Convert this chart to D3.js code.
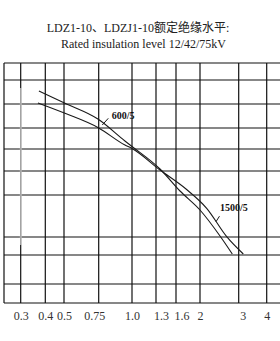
<!DOCTYPE html>
<html>
<head>
<meta charset="utf-8">
<script src="https://cdn.jsdelivr.net/npm/d3@7"></script>
<style>
  body { margin: 0; background: #fff; }
  svg { display: block; }
  .title { font-family: "Liberation Serif", "Noto Sans CJK SC", serif; font-size: 12px; fill: #222; }
  .tick text { font-family: "Liberation Serif", serif; font-size: 12px; fill: #333; }
  .curve-label { font-family: "Liberation Serif", serif; font-size: 10px; font-weight: bold; fill: #111; }
</style>
</head>
<body>
<div id="chart"></div>
<script>
// ---- data ----
var titleLines = ["LDZ1-10、LDZJ1-10额定绝缘水平:", "Rated insulation level 12/42/75kV"];

var xTicks = [0.3, 0.4, 0.5, 0.75, 1.0, 1.3, 1.6, 2, 3, 4];
var xTickLabels = ["0.3", "0.4", "0.5", "0.75", "1.0", "1.3", "1.6", "2", "3", "4"];

// unlabeled horizontal grid levels (relative units)
var yGrid = [0, 1.9, 4.8, 6.6, 10.8, 13.2, 15.4, 17.5, 19.9, 22.3, 24];

var curve600 = [
    {x: 0.374, y: 21.2}, {x: 0.507, y: 19.97}, {x: 0.747, y: 18.37},
    {x: 0.947, y: 16.2}, {x: 1.0, y: 15.65}, {x: 1.36, y: 13.4},
    {x: 1.667, y: 11.2}, {x: 2.0, y: 9.3}, {x: 2.517, y: 6.7}, {x: 2.835, y: 4.9}
];
var curve1500 = [
    {x: 0.370, y: 20.0}, {x: 0.507, y: 18.97}, {x: 0.747, y: 17.53},
    {x: 0.947, y: 15.8}, {x: 1.0, y: 15.45}, {x: 1.36, y: 13.3},
    {x: 1.767, y: 11.4}, {x: 2.173, y: 9.47}, {x: 2.69, y: 6.63}, {x: 3.164, y: 4.9}
];

var curveNames = ["600/5", "1500/5"];
// where each label's leader touches its curve
var labelAnchors = [{x: 0.777, y: 17.8}, {x: 2.413, y: 8.13}];

// ---- layout ----
var width = 280, height = 341;
var frame = {left: 4, top: 63, right: 280, bottom: 303};
// the printed axis is not evenly spaced: pixel spots of the ticks
var xTickPx = [20.7, 45.3, 64, 98.7, 132, 156, 176, 200, 238.7, 266.7];
// printed tick labels sit a little off their lines
var labelShift = {"0.75": -4.5, "1.3": 5, "1.6": 5.5, "3": 4};

var svg = d3.select("#chart").append("svg")
    .attr("width", width)
    .attr("height", height);

// title
svg.selectAll(".title")
    .data(titleLines)
    .enter().append("text")
    .attr("class", "title")
    .attr("x", function(d, i) { return i === 0 ? 138 : 143.5; })
    .attr("y", function(d, i) { return i === 0 ? 32 : 47.5; })
    .attr("text-anchor", "middle")
    .text(function(d) { return d; });

// scales
var x = d3.scaleLinear()
    .domain(xTicks)
    .range(xTickPx);

var y = d3.scaleLinear()
    .domain([0, 24])
    .range([frame.bottom, frame.top]);

var grid = svg.append("g").attr("class", "grid");

// horizontal grid lines
grid.selectAll(".hline")
    .data(yGrid)
    .enter().append("line")
    .attr("class", "hline")
    .attr("x1", frame.left)
    .attr("x2", frame.right)
    .attr("y1", function(d) { return y(d); })
    .attr("y2", function(d) { return y(d); })
    .attr("stroke", "#111")
    .attr("stroke-width", 1.2);

// left border
grid.append("line")
    .attr("x1", frame.left).attr("x2", frame.left)
    .attr("y1", frame.top).attr("y2", frame.bottom)
    .attr("stroke", "#111")
    .attr("stroke-width", 1.2);

// vertical grid lines
grid.selectAll(".vline")
    .data(xTicks)
    .enter().append("line")
    .attr("class", "vline")
    .attr("x1", function(d) { return x(d); })
    .attr("x2", function(d) { return x(d); })
    .attr("y1", frame.top)
    .attr("y2", frame.bottom)
    .attr("stroke", "#111")
    .attr("stroke-width", 1.2);

// the 0.3 line is faded in the middle of the print
grid.append("line")
    .attr("x1", x(0.3)).attr("x2", x(0.3))
    .attr("y1", y(21.5)).attr("y2", y(5.8))
    .attr("stroke", "#fff")
    .attr("stroke-width", 1.6);
grid.append("line")
    .attr("x1", x(0.3)).attr("x2", x(0.3))
    .attr("y1", y(21.5)).attr("y2", y(5.8))
    .attr("stroke", "#9a9a9a")
    .attr("stroke-width", 1.2);

// x axis labels
var xAxis = d3.axisBottom(x)
    .tickValues(xTicks)
    .tickSize(0)
    .tickPadding(8)
    .tickFormat(function(d, i) { return xTickLabels[i]; });

svg.append("g")
    .attr("class", "x-axis")
    .attr("transform", "translate(0," + frame.bottom + ")")
    .call(xAxis)
    .call(function(g) { g.select(".domain").remove(); });

svg.selectAll(".x-axis .tick text")
    .attr("dy", "0.71em")
    .attr("dx", function(d, i) { return labelShift[xTickLabels[i]] || 0; });

// curves
var line = d3.line()
    .curve(d3.curveMonotoneX)
    .x(function(d) { return x(d.x); })
    .y(function(d) { return y(d.y); });

svg.selectAll(".curve")
    .data([curve600, curve1500])
    .enter().append("path")
    .attr("class", "curve")
    .attr("d", line)
    .attr("fill", "none")
    .attr("stroke", "#1a1a1a")
    .attr("stroke-width", 1.1);

// labels with leader lines
var labels = svg.selectAll(".lab")
    .data(labelAnchors)
    .enter().append("g")
    .attr("class", "lab")
    .attr("transform", function(d) { return "translate(" + x(d.x) + "," + y(d.y) + ")"; });

labels.append("line")
    .attr("x1", 0).attr("y1", 0)
    .attr("x2", function(d, i) { return i === 0 ? 6 : 3.5; })
    .attr("y2", function(d, i) { return i === 0 ? -6.7 : -5.5; })
    .attr("stroke", "#1a1a1a")
    .attr("stroke-width", 1);

labels.append("text")
    .attr("class", "curve-label")
    .attr("x", function(d, i) { return i === 0 ? 9.4 : 4; })
    .attr("y", function(d, i) { return i === 0 ? -6.5 : -10.5; })
    .text(function(d, i) { return curveNames[i]; });
</script>
</body>
</html>
